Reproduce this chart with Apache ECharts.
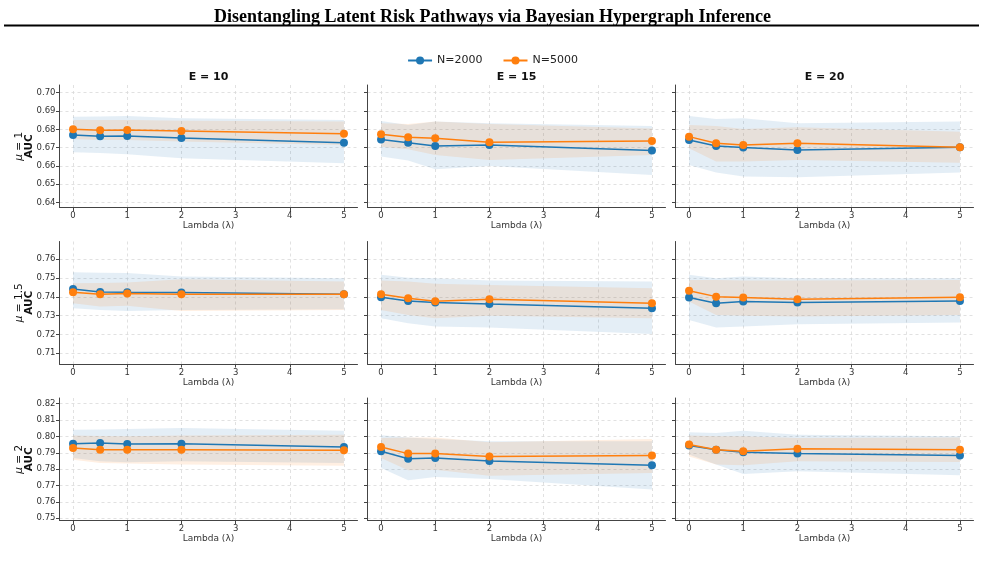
<!DOCTYPE html>
<html>
<head>
<meta charset="utf-8">
<script src="https://cdn.jsdelivr.net/npm/echarts@6/dist/echarts.min.js"></script>
<style>
  html, body { margin: 0; padding: 0; background: #fff; }
  #chart { width: 985px; height: 566px; }
</style>
</head>
<body>
<div id="chart"></div>
<script>
// x values (lambda) and tick labels
const lambdas = [0, 0.5, 1, 2, 5];
const xTicks = [0, 1, 2, 3, 4, 5];
const edgeLabels = ["E = 10", "E = 15", "E = 20"];
const muLabels = ["1", "1.5", "2"];
const yTicks = [
  [0.64, 0.65, 0.66, 0.67, 0.68, 0.69, 0.70],
  [0.71, 0.72, 0.73, 0.74, 0.75, 0.76],
  [0.75, 0.76, 0.77, 0.78, 0.79, 0.80, 0.81, 0.82]
];
const yRanges = [[0.6373, 0.7042], [0.7043, 0.7694], [0.7486, 0.8235]];

// panels in row-major order: mu row, E column
const n2000Mean = [
  [0.6769, 0.6762, 0.6764, 0.6753, 0.6727],
  [0.6745, 0.6727, 0.6709, 0.6715, 0.6684],
  [0.6742, 0.6709, 0.6700, 0.6687, 0.6702],
  [0.7442, 0.7426, 0.7424, 0.7423, 0.7414],
  [0.7398, 0.7378, 0.7370, 0.7362, 0.7339],
  [0.7396, 0.7366, 0.7375, 0.7370, 0.7378],
  [0.7956, 0.7960, 0.7954, 0.7956, 0.7935],
  [0.7909, 0.7864, 0.7868, 0.7850, 0.7824],
  [0.7944, 0.7919, 0.7903, 0.7895, 0.7883]
];
const n2000Lo = [
  [0.6675, 0.6670, 0.6664, 0.6642, 0.6615],
  [0.6651, 0.6629, 0.6582, 0.6600, 0.6551],
  [0.6605, 0.6564, 0.6542, 0.6538, 0.6564],
  [0.7339, 0.7330, 0.7325, 0.7330, 0.7334],
  [0.7286, 0.7260, 0.7242, 0.7237, 0.7203],
  [0.7277, 0.7237, 0.7242, 0.7254, 0.7263],
  [0.7868, 0.7848, 0.7842, 0.7848, 0.7838],
  [0.7807, 0.7732, 0.7752, 0.7740, 0.7675],
  [0.7889, 0.7828, 0.7771, 0.7787, 0.7762]
];
const n2000Hi = [
  [0.6869, 0.6870, 0.6873, 0.6860, 0.6851],
  [0.6845, 0.6824, 0.6842, 0.6833, 0.6818],
  [0.6873, 0.6856, 0.6860, 0.6833, 0.6842],
  [0.7531, 0.7528, 0.7526, 0.7508, 0.7499],
  [0.7517, 0.7502, 0.7499, 0.7487, 0.7481],
  [0.7517, 0.7499, 0.7508, 0.7499, 0.7499],
  [0.8041, 0.8043, 0.8045, 0.8051, 0.8035],
  [0.8007, 0.7994, 0.7984, 0.7970, 0.7970],
  [0.8025, 0.8021, 0.8035, 0.8011, 0.8001]
];
const n5000Mean = [
  [0.6800, 0.6795, 0.6796, 0.6791, 0.6776],
  [0.6773, 0.6756, 0.6751, 0.6729, 0.6736],
  [0.6760, 0.6724, 0.6715, 0.6724, 0.6702],
  [0.7424, 0.7414, 0.7417, 0.7414, 0.7414],
  [0.7414, 0.7393, 0.7377, 0.7387, 0.7366],
  [0.7432, 0.7401, 0.7396, 0.7387, 0.7398],
  [0.7929, 0.7919, 0.7919, 0.7919, 0.7915],
  [0.7935, 0.7895, 0.7895, 0.7878, 0.7883],
  [0.7950, 0.7919, 0.7909, 0.7925, 0.7919]
];
const n5000Lo = [
  [0.6747, 0.6742, 0.6742, 0.6733, 0.6715],
  [0.6705, 0.6691, 0.6660, 0.6633, 0.6660],
  [0.6696, 0.6624, 0.6624, 0.6633, 0.6618],
  [0.7366, 0.7348, 0.7352, 0.7325, 0.7330],
  [0.7330, 0.7304, 0.7286, 0.7299, 0.7286],
  [0.7375, 0.7304, 0.7299, 0.7295, 0.7304],
  [0.7858, 0.7838, 0.7834, 0.7828, 0.7821],
  [0.7868, 0.7793, 0.7797, 0.7760, 0.7777],
  [0.7878, 0.7828, 0.7824, 0.7848, 0.7844]
];
const n5000Hi = [
  [0.6851, 0.6851, 0.6851, 0.6847, 0.6842],
  [0.6833, 0.6829, 0.6842, 0.6829, 0.6805],
  [0.6824, 0.6818, 0.6802, 0.6811, 0.6787],
  [0.7472, 0.7474, 0.7476, 0.7494, 0.7481],
  [0.7487, 0.7481, 0.7469, 0.7463, 0.7446],
  [0.7490, 0.7490, 0.7487, 0.7487, 0.7490],
  [0.8005, 0.8003, 0.8001, 0.8005, 0.8011],
  [0.7990, 0.7994, 0.7994, 0.7964, 0.7984],
  [0.8005, 0.8001, 0.8001, 0.7990, 0.7994]
];

const BLUE = "#1f77b4";
const ORANGE = "#ff7f0e";
const FONT = '"DejaVu Sans", sans-serif';
const colLeft = [59.5, 367.5, 675.5];
const colWidth = 298;
const rowTop = [85, 241.5, 398];
const rowHeight = 122.5;

const grids = [], xAxes = [], yAxes = [], series = [], graphics = [];

function band(k, lo, hi, fill, z) {
  const rows = lambdas.map((x, i) => [x, lo[i], hi[i]]);
  return {
    type: "custom",
    xAxisIndex: k,
    yAxisIndex: k,
    silent: true,
    z: z,
    data: rows,
    encode: { x: 0, y: [1, 2] },
    renderItem: (params, api) => {
      if (params.dataIndex !== 0) return;
      const pts = [];
      rows.forEach(r => pts.push(api.coord([r[0], r[2]])));
      rows.slice().reverse().forEach(r => pts.push(api.coord([r[0], r[1]])));
      return { type: "polygon", shape: { points: pts }, style: { fill: fill } };
    }
  };
}

function line(k, name, vals, color, z) {
  return {
    type: "line",
    name: name,
    xAxisIndex: k,
    yAxisIndex: k,
    data: lambdas.map((x, i) => [x, vals[i]]),
    symbol: "circle",
    symbolSize: 8,
    showSymbol: true,
    z: z,
    lineStyle: { color: color, width: 1.5 },
    itemStyle: { color: color },
    emphasis: { disabled: true }
  };
}

for (let r = 0; r < 3; r++) {
  for (let c = 0; c < 3; c++) {
    const k = r * 3 + c;
    grids.push({ left: colLeft[c], top: rowTop[r], width: colWidth, height: rowHeight });
    xAxes.push({
      type: "value",
      gridIndex: k,
      min: -0.25,
      max: 5.25,
      axisLine: { show: true, onZero: false, lineStyle: { color: "#444", width: 1 } },
      axisTick: { show: true, customValues: xTicks, length: 3.5, lineStyle: { color: "#444" } },
      axisLabel: { customValues: xTicks, fontSize: 8.5, color: "#333", margin: 4, fontFamily: FONT },
      splitLine: { show: true, lineStyle: { type: [3, 3], color: "#dadada", width: 0.8 } },
      name: "Lambda (λ)",
      nameLocation: "middle",
      nameGap: 14,
      nameTextStyle: { fontSize: 9, color: "#333", fontFamily: FONT }
    });
    yAxes.push({
      type: "value",
      gridIndex: k,
      min: yRanges[r][0],
      max: yRanges[r][1],
      axisLine: { show: true, onZero: false, lineStyle: { color: "#444", width: 1 } },
      axisTick: { show: true, customValues: yTicks[r], length: 3.5, lineStyle: { color: "#444" } },
      axisLabel: {
        show: c === 0,
        customValues: yTicks[r],
        fontSize: 8.5,
        color: "#333",
        margin: 4,
        fontFamily: FONT,
        formatter: v => v.toFixed(2)
      },
      splitLine: { show: true, lineStyle: { type: [3, 3], color: "#dadada", width: 0.8 } }
    });
    series.push(band(k, n2000Lo[k], n2000Hi[k], "rgba(31,119,180,0.12)", 1));
    series.push(band(k, n5000Lo[k], n5000Hi[k], "rgba(255,127,14,0.12)", 1));
    series.push(line(k, "N=2000", n2000Mean[k], BLUE, 2));
    series.push(line(k, "N=5000", n5000Mean[k], ORANGE, 3));
  }
}

edgeLabels.forEach((t, c) => {
  graphics.push({
    type: "text",
    x: colLeft[c] + colWidth / 2,
    y: 77,
    style: { text: t, fontSize: 11, fontWeight: "bold", fill: "#111", fontFamily: FONT, align: "center", verticalAlign: "middle" }
  });
});

muLabels.forEach((m, r) => {
  graphics.push({
    type: "text",
    x: 24,
    y: rowTop[r] + rowHeight / 2,
    rotation: Math.PI / 2,
    style: {
      text: "{i|μ} = " + m + "\n{b|AUC}",
      align: "center",
      verticalAlign: "middle",
      fill: "#111",
      fontSize: 10.5,
      fontFamily: FONT,
      lineHeight: 10,
      rich: {
        i: { fontStyle: "italic", fontSize: 10.5, fontFamily: FONT, fill: "#111" },
        b: { fontWeight: "bold", fontSize: 10.5, fontFamily: FONT, fill: "#111" }
      }
    }
  });
});

graphics.push({
  type: "rect",
  shape: { x: 4, y: 24.5, width: 975, height: 2 },
  style: { fill: "#000" }
});

const chart = echarts.init(document.getElementById("chart"), null, { renderer: "canvas" });
chart.setOption({
  animation: false,
  backgroundColor: "#fff",
  title: {
    text: "Disentangling Latent Risk Pathways via Bayesian Hypergraph Inference",
    left: "center",
    top: 3,
    textStyle: { fontFamily: '"Liberation Serif", serif', fontWeight: "bold", fontSize: 18, color: "#000" }
  },
  legend: {
    data: ["N=2000", "N=5000"],
    top: 50,
    left: "center",
    itemWidth: 24,
    itemHeight: 10,
    itemGap: 20,
    textStyle: { fontSize: 11, color: "#222", fontFamily: FONT }
  },
  grid: grids,
  xAxis: xAxes,
  yAxis: yAxes,
  series: series,
  graphic: graphics
});
</script>
</body>
</html>
